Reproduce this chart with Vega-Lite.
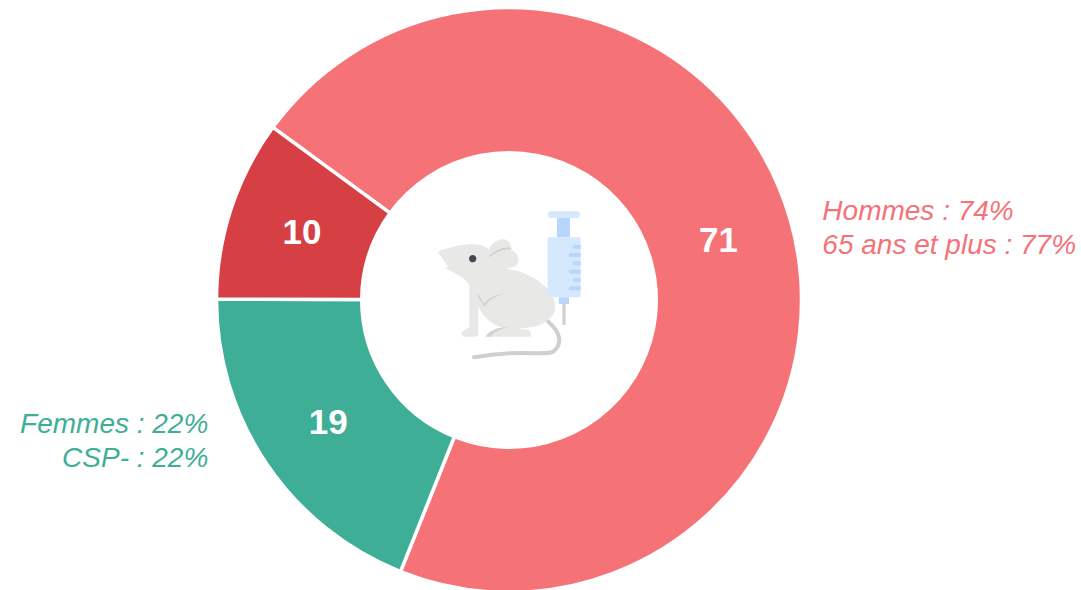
{"$schema":"https://vega.github.io/schema/vega-lite/v6.json","width":1081,"height":590,"padding":0,"autosize":"none","background":"#ffffff","config":{"view":{"stroke":null},"font":"Liberation Sans"},
"layer":[
{"data":{"values":[{"segment":"Groupe A","value":71,"rank":1,"note":"Hommes : 74%|65 ans et plus : 77%"},{"segment":"Groupe B","value":19,"rank":2,"note":"Femmes : 22%|CSP- : 22%"},{"segment":"Groupe C","value":10,"rank":3,"note":""}]},
"encoding":{"x":{"value":509},"y":{"value":300},"theta":{"field":"value","type":"quantitative","stack":true,"scale":{"domain":[0,100],"range":[5.344,11.627]}},"order":{"field":"rank","type":"ordinal"}},
"layer":[
{"mark":{"type":"arc","radius":292.5,"radius2":147.25,"stroke":"#ffffff","strokeWidth":3.5},"encoding":{"color":{"field":"segment","type":"nominal","legend":null,"scale":{"domain":["Groupe A","Groupe B","Groupe C"],"range":["#f57277","#3eae96","#d64045"]}}}},
{"mark":{"type":"text","radius":218,"dy":1,"font":"Liberation Sans","fontSize":35,"fontWeight":"bold","fill":"#ffffff","align":"center","baseline":"middle"},"encoding":{"text":{"field":"value","type":"quantitative"}}},
{"mark":{"type":"text","radius":300,"dx":25,"dy":-5,"font":"Liberation Sans","fontSize":28,"fontStyle":"italic","fill":"#f57277","align":"left","baseline":"middle","lineBreak":"|","lineHeight":34},"encoding":{"text":{"condition":{"test":"datum.rank==1","field":"note","type":"nominal"},"value":""}}},
{"mark":{"type":"text","radius":300,"dx":-52,"dy":-43,"font":"Liberation Sans","fontSize":28,"fontStyle":"italic","fill":"#3eae96","align":"right","baseline":"middle","lineBreak":"|","lineHeight":34},"encoding":{"text":{"condition":{"test":"datum.rank==2","field":"note","type":"nominal"},"value":""}}}
]},
{"data":{"values":[{"part":"icon"}]},"encoding":{"x":{"value":420},"y":{"value":200}},
"layer":[
{"mark":{"type":"point","size":0.4444,"opacity":1,"filled":false,"fill":null,"stroke":"#cfcfcf","strokeWidth":4,"strokeCap":"round","shape":"M385 365 C420 395 430 430 400 455 C370 470 300 445 162 472"}},
{"mark":{"type":"point","size":0.4444,"opacity":1,"filled":true,"fill":"#e8e8e7","strokeWidth":0,"shape":"M53 155 C90 140 130 132 165 133 C195 135 215 150 225 175 L262 207 C320 215 372 245 395 285 C410 312 408 335 393 352 C370 378 335 385 290 385 L325 390 C332 395 334 402 332 410 L200 410 C205 395 225 385 250 383 C215 375 190 350 175 320 L175 400 C175 408 170 410 165 410 L135 410 C122 410 122 398 130 393 L148 380 L148 255 C135 235 105 218 75 205 L85 200 C70 180 60 165 53 155 Z"}},
{"mark":{"type":"point","size":0.4444,"opacity":1,"filled":true,"fill":"#e8e8e7","strokeWidth":0,"shape":"M205 160 C205 135 230 118 250 118 C265 118 275 135 275 150 C295 160 300 180 290 195 C270 212 235 208 205 172 Z"}},
{"mark":{"type":"point","size":0.4444,"opacity":1,"filled":true,"fill":"#d2d2d1","strokeWidth":0,"shape":"M207 168 C225 150 250 140 272 143 L273 148 C250 146 228 155 209 172 Z M170 282 L176 284 L192 310 C205 292 235 280 262 281 C235 284 210 295 193 320 Z M197 410 C205 392 235 382 262 381 C240 388 222 397 212 410 Z"}},
{"mark":{"type":"point","size":0.4444,"opacity":1,"filled":true,"fill":"#47474f","strokeWidth":0,"shape":"M147 176 A11 11 0 1 0 169 176 A11 11 0 1 0 147 176 Z"}},
{"mark":{"type":"point","size":0.4444,"opacity":1,"filled":true,"fill":"#d0d0d0","strokeWidth":0,"shape":"M427 312 L437 312 L437 370 C437 377 427 377 427 370 Z"}},
{"mark":{"type":"point","size":0.4444,"opacity":1,"filled":true,"fill":"#b8d5fb","strokeWidth":0,"shape":"M411 54 L450 54 L450 112 L411 112 Z M417 292 L447 292 L447 312 L417 312 Z"}},
{"mark":{"type":"point","size":0.4444,"opacity":1,"filled":true,"fill":"#d6e8fe","strokeWidth":0,"shape":"M393 34 L471 34 C484 34 484 54 471 54 L393 54 C380 54 380 34 393 34 Z M387 112 L478 112 C481 112 482 113 482 116 L482 288 C482 291 481 292 478 292 L387 292 C384 292 383 291 383 288 L383 116 C383 113 384 112 387 112 Z"}},
{"mark":{"type":"point","size":0.4444,"opacity":1,"filled":true,"fill":"#b8d5fb","strokeWidth":0,"shape":"M464 135 L482 135 L482 147 L464 147 C456 147 456 135 464 135 Z M452 159 L482 159 L482 171 L452 171 C444 171 444 159 452 159 Z M464 184 L482 184 L482 196 L464 196 C456 196 456 184 464 184 Z M452 209 L482 209 L482 221 L452 221 C444 221 444 209 452 209 Z M464 234 L482 234 L482 246 L464 246 C456 246 456 234 464 234 Z M452 259 L482 259 L482 271 L452 271 C444 271 444 259 452 259 Z"}}
]}
]}
